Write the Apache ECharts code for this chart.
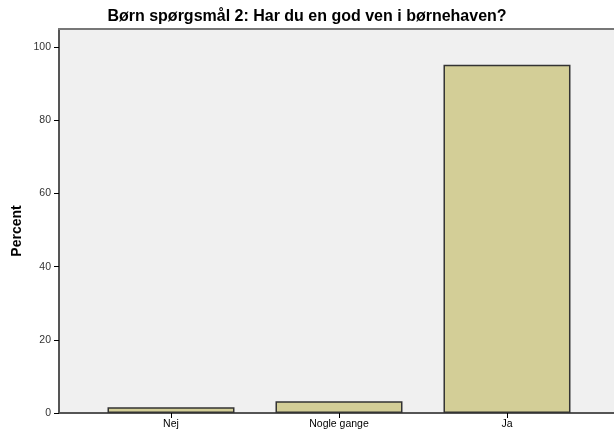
<!DOCTYPE html>
<html>
<head>
<meta charset="utf-8">
<script src="https://cdn.jsdelivr.net/npm/echarts@6/dist/echarts.min.js"></script>
<style>
	html, body { margin: 0; padding: 0; background: #fff; }
	#chart { width: 614px; height: 432px; }
</style>
</head>
<body>
<div id="chart"></div>
<script>
// data
var categories = ['Nej', 'Nogle gange', 'Ja'];
var percentValues = [1.6, 3.2, 95.2];
var yTicks = [0, 20, 40, 60, 80, 100];

var chart = echarts.init(document.getElementById('chart'));

// bars sit at positions 1,2,3 on a value axis so the margins match the original
var barData = [];
for (var i = 0; i < categories.length; i++) {
	barData.push([i + 1, percentValues[i]]);
}

var option = {
	animation: false,
	title: {
		text: 'Børn spørgsmål 2: Har du en god ven i børnehaven?',
		left: 'center',
		top: 4,
		textStyle: {
			fontFamily: 'Liberation Sans',
			fontSize: 16,
			fontWeight: 'bold',
			color: '#000'
		}
	},
	graphic: [{
		type: 'text',
		x: 17,
		y: 231,
		rotation: Math.PI / 2,
		style: {
			text: 'Percent',
			fontFamily: 'Liberation Sans',
			fontSize: 14,
			fontWeight: 'bold',
			fill: '#000',
			align: 'center',
			verticalAlign: 'middle'
		}
	}],
	grid: {
		left: 59,
		right: 0,
		top: 29,
		bottom: 19,
		show: true,
		backgroundColor: '#f0f0f0',
		borderWidth: 0
	},
	xAxis: [{
		type: 'value',
		min: 1 / 3,
		max: 3.637,
		splitLine: { show: false },
		axisLine: { show: true, onZero: false, lineStyle: { color: '#555', width: 2 } },
		axisTick: {
			show: true,
			customValues: [1, 2, 3],
			length: 5,
			lineStyle: { color: '#000', width: 1 }
		},
		axisLabel: {
			customValues: [1, 2, 3],
			formatter: function (v) {
				return categories[Math.round(v) - 1];
			},
			margin: 6,
			fontFamily: 'Liberation Sans',
			fontSize: 10.5,
			color: '#000'
		}
	}, {
		// top border of the plot frame
		type: 'value',
		position: 'top',
		min: 0,
		max: 1,
		axisLine: { show: true, onZero: false, lineStyle: { color: '#777', width: 2 } },
		axisTick: { show: false },
		axisLabel: { show: false },
		splitLine: { show: false }
	}],
	yAxis: {
		type: 'value',
		min: 0,
		max: 105,
		splitLine: { show: false },
		axisLine: { show: true, lineStyle: { color: '#555', width: 2 } },
		axisTick: {
			show: true,
			customValues: yTicks,
			length: 5,
			lineStyle: { color: '#000', width: 1 }
		},
		axisLabel: {
			customValues: yTicks,
			margin: 8,
			fontFamily: 'Liberation Sans',
			fontSize: 10.5,
			color: '#333'
		}
	},
	series: [{
		type: 'bar',
		xAxisIndex: 0,
		barWidth: 127,
		data: barData,
		itemStyle: {
			color: '#d3ce97',
			borderColor: '#333',
			borderWidth: 1.5
		}
	}]
};

chart.setOption(option);
</script>
</body>
</html>
